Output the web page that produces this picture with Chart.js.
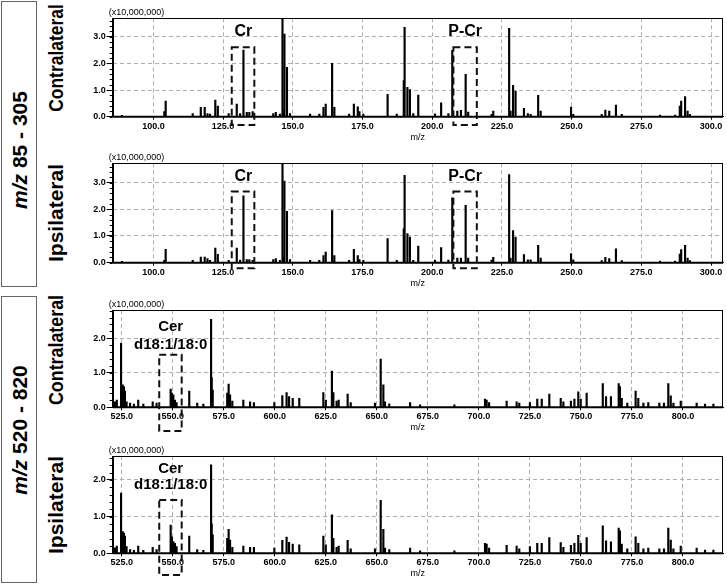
<!DOCTYPE html>
<html><head><meta charset="utf-8">
<script src="https://cdn.jsdelivr.net/npm/chart.js@4.4.1/dist/chart.umd.min.js"></script>
<style>
html,body{margin:0;padding:0;background:#fff;}
#wrap{position:relative;width:727px;height:585px;overflow:hidden;background:#fff;}
canvas{position:absolute;left:70px;}
.box{position:absolute;border:1px solid #666;box-sizing:border-box;}
.vt{position:absolute;white-space:nowrap;font-family:"Liberation Sans",Arial,sans-serif;font-weight:bold;font-size:21px;line-height:1;color:#000;transform-origin:50% 50%;}
</style></head><body>
<div id="wrap">
  <div class="box" style="left:1px;top:1px;width:36px;height:286px"></div>
  <div class="box" style="left:1px;top:296px;width:36px;height:287px"></div>
  <div class="vt" style="left:18.5px;top:150px;transform:translate(-50%,-50%) rotate(-90deg)"><i>m/z</i> 85 - 305</div>
  <div class="vt" style="left:18.5px;top:430px;transform:translate(-50%,-50%) rotate(-90deg)"><i>m/z</i> 520 - 820</div>
  <div class="vt" style="left:55px;top:58px;transform:translate(-50%,-50%) rotate(-90deg) scaleX(0.83)">Contralateral</div>
  <div class="vt" style="left:55px;top:213px;transform:translate(-50%,-50%) rotate(-90deg)">Ipsilateral</div>
  <div class="vt" style="left:55px;top:350px;transform:translate(-50%,-50%) rotate(-90deg) scaleX(0.85)">Contralateral</div>
  <div class="vt" style="left:55px;top:505px;transform:translate(-50%,-50%) rotate(-90deg)">Ipsilateral</div>
  <canvas id="p1" width="657" height="145" style="top:0px"></canvas>
  <canvas id="p2" width="657" height="145" style="top:145px"></canvas>
  <canvas id="p3" width="657" height="145" style="top:290px"></canvas>
  <canvas id="p4" width="657" height="148" style="top:437px"></canvas>
</div>
<script>
// ---------- data (intensity in units of 10,000,000) ----------
const mzLow = [88.7,103.9,104.4,114.1,117.0,118.4,119.4,120.3,122.2,123.1,
  127.0,129.9,131.1,132.3,133.5,134.4,135.6,143.0,143.9,145.4,
  146.3,146.6,147.0,147.9,149.0,156.2,159.5,161.0,161.8,164.1,
  164.9,170.2,171.9,173.3,173.9,175.3,184.0,187.3,189.8,190.1,
  191.1,192.0,193.2,195.0,201.0,203.2,205.8,207.2,209.0,210.3,
  212.0,212.9,221.3,221.9,227.6,228.1,229.0,229.9,232.9,234.3,
  235.3,238.0,238.9,249.8,250.6,260.8,262.1,263.5,265.9,268.0,
  281.7,287.1,288.8,289.3,290.7,291.6,292.4];
const contraLow = [0.05,0.19,0.59,0.12,0.35,0.35,0.12,0.10,0.62,0.40,
  0.12,0.47,0.12,2.50,0.16,0.16,0.19,0.12,0.16,0.10,
  3.90,0.25,3.10,1.85,0.12,0.10,0.10,0.35,0.47,2.00,
  0.35,0.10,0.47,0.37,0.19,0.10,0.84,0.10,1.35,3.35,
  1.10,1.02,0.12,0.81,0.11,0.52,0.12,2.49,0.21,0.24,
  1.59,0.17,0.09,0.21,3.31,0.21,1.18,0.96,0.31,0.12,
  0.09,0.80,0.21,0.36,0.09,0.09,0.25,0.21,0.44,0.09,
  0.06,0.06,0.40,0.59,0.75,0.21,0.09];
const ipsiLow = [0.05,0.09,0.50,0.09,0.21,0.21,0.15,0.09,0.55,0.31,
  0.09,0.55,0.10,2.50,0.12,0.12,0.09,0.12,0.15,0.09,
  3.90,0.21,3.05,1.92,0.12,0.09,0.09,0.27,0.40,1.95,
  0.27,0.09,0.50,0.27,0.12,0.09,0.90,0.09,1.27,3.27,
  1.09,0.96,0.09,0.62,0.10,0.57,0.10,2.43,0.17,0.17,
  2.15,0.17,0.10,0.20,3.30,0.17,1.20,0.96,0.30,0.11,
  0.11,0.65,0.17,0.34,0.11,0.08,0.20,0.15,0.52,0.08,
  0.06,0.06,0.32,0.49,0.65,0.17,0.08];

const mzHigh = [521.7,522.6,524.7,525.5,526.1,526.6,527.4,529.1,531.0,533.1,
  535.6,540.2,542.1,549.0,549.6,550.3,551.1,551.9,558.1,562.0,
  565.0,568.8,569.1,569.6,576.7,577.4,578.1,579.2,584.6,587.9,
  589.8,599.8,603.7,605.8,607.0,608.8,612.0,623.8,625.0,628.0,
  628.7,630.3,631.3,635.7,637.2,649.1,651.9,653.2,654.0,656.1,
  666.3,671.2,688.0,703.0,703.8,705.0,713.6,718.5,719.8,725.0,
  728.6,730.8,734.5,740.1,741.4,745.1,746.8,748.7,749.9,752.8,
  760.7,762.3,764.7,768.5,769.1,770.0,772.7,776.8,778.1,780.6,
  783.0,788.4,790.7,792.8,794.0,795.3,798.9,806.7,810.8,814.9];
const contraHigh = [0.16,0.21,1.86,0.65,0.60,0.47,0.16,0.12,0.09,0.21,
  0.09,0.16,0.12,0.53,0.41,0.36,0.21,0.14,0.47,0.12,
  0.09,2.55,0.86,0.50,0.41,0.67,0.36,0.18,0.21,0.16,
  0.14,0.14,0.34,0.43,0.31,0.26,0.26,0.43,0.21,1.05,
  0.43,0.18,0.21,0.38,0.14,0.12,1.40,0.65,0.16,0.10,
  0.14,0.07,0.07,0.24,0.21,0.14,0.18,0.16,0.12,0.14,
  0.24,0.24,0.38,0.26,0.16,0.18,0.24,0.45,0.24,0.41,
  0.69,0.31,0.31,0.69,0.60,0.26,0.12,0.47,0.26,0.12,
  0.14,0.12,0.12,0.69,0.33,0.12,0.18,0.12,0.09,0.09];
const ipsiHigh = [0.15,0.20,1.64,0.59,0.55,0.47,0.18,0.10,0.08,0.20,
  0.08,0.16,0.10,0.77,0.45,0.32,0.27,0.18,0.47,0.10,
  0.08,2.41,0.80,0.50,0.41,0.65,0.36,0.16,0.20,0.16,
  0.16,0.14,0.35,0.44,0.30,0.25,0.23,0.47,0.23,1.05,
  0.41,0.16,0.20,0.35,0.12,0.12,1.44,0.65,0.14,0.10,
  0.14,0.07,0.07,0.27,0.25,0.14,0.22,0.20,0.12,0.18,
  0.27,0.27,0.43,0.29,0.16,0.22,0.27,0.49,0.27,0.43,
  0.75,0.34,0.31,0.69,0.61,0.25,0.12,0.45,0.27,0.12,
  0.14,0.12,0.12,0.69,0.36,0.12,0.20,0.14,0.09,0.09];

// tick labels
const mzTicksLow = [100,125,150,175,200,225,250,275,300];
const mzTicksHigh = [525,550,575,600,625,650,675,700,725,750,775,800];
const yTicksTop = [0,1,2,3];
const yTicksBottom = [0,1,2];

// annotated regions: [mzFrom, mzTo, intensityTop, intensityBottom]
const crBoxContra = [128.1,136.2,2.60,-0.31];
const pcrBoxContra = [207.6,216.0,2.60,-0.31];
const crBoxIpsi = [128.1,136.2,2.66,-0.21];
const pcrBoxIpsi = [207.6,216.0,2.66,-0.21];
const cerBoxContra = [543.4,554.4,1.52,-0.69];
const cerBoxIpsi = [543.4,554.4,1.45,-0.59];
</script>
<script>
const FAM = '"Liberation Sans", Arial, sans-serif';
const decor = {
  id: 'decor',
  afterDraw(chart, args, o) {
    const {ctx, chartArea: a, scales: {x, y}} = chart;
    ctx.save();
    // frame
    ctx.strokeStyle = '#000'; ctx.lineWidth = 1;
    ctx.strokeRect(Math.round(a.left) + 0.5, Math.round(a.top) + 0.5, Math.round(a.right - a.left) - 1, Math.round(a.bottom - a.top));
    ctx.lineWidth = 2;
    ctx.beginPath(); ctx.moveTo(a.left, a.bottom); ctx.lineTo(a.right, a.bottom); ctx.stroke();
    // minor ticks on y
    ctx.lineWidth = 1;
    const n = Math.floor(y.max / 0.2 + 1e-6);
    for (let i = 0; i <= n; i++) {
      const py = Math.round(y.getPixelForValue(i * 0.2)) + 0.5;
      ctx.beginPath(); ctx.moveTo(a.left - 3, py); ctx.lineTo(a.left, py); ctx.stroke();
    }
    // multiplier
    ctx.fillStyle = '#000';
    ctx.font = '9px ' + FAM;
    ctx.textAlign = 'left'; ctx.textBaseline = 'bottom';
    ctx.fillText('(x10,000,000)', a.left - 4, a.top - 1);
    // dashed boxes
    ctx.setLineDash([7, 4]); ctx.lineWidth = 2; ctx.strokeStyle = '#111';
    (o.boxes || []).forEach(b => {
      const x1 = x.getPixelForValue(b[0]), x2 = x.getPixelForValue(b[1]);
      const y1 = y.getPixelForValue(b[2]), y2 = y.getPixelForValue(b[3]);
      ctx.strokeRect(x1, y1, x2 - x1, y2 - y1);
    });
    ctx.setLineDash([]);
    (o.labels || []).forEach(l => {
      ctx.font = 'bold ' + l.size + 'px ' + FAM;
      ctx.textAlign = 'center'; ctx.textBaseline = 'middle';
      ctx.fillText(l.text, x.getPixelForValue(l.x), y.getPixelForValue(l.y));
    });
    ctx.restore();
  }
};

function panel(id, c) {
  const padTop = c.areaTop - c.top;
  const xH = c.top + c.height - c.areaBottom;
  const titlePad = c.height - (c.areaBottom - c.top + 20.5) - 5.4;
  return new Chart(document.getElementById(id), {
    type: 'bar',
    data: { datasets: [{ data: c.mz.map((m, i) => ({x: m, y: c.vals[i]})), backgroundColor: '#000', borderWidth: 0, barThickness: 1.5 }] },
    options: {
      responsive: false, animation: false, maintainAspectRatio: false,
      layout: { padding: { top: padTop, left: 0, right: 4, bottom: 0 } },
      plugins: { legend: { display: false }, tooltip: { enabled: false }, decor: { boxes: c.boxes, labels: c.labels } },
      scales: {
        x: {
          type: 'linear', min: c.xMin, max: c.xMax, offset: false,
          afterFit: s => { s.height = xH; },
          afterBuildTicks: s => { s.ticks = c.xTicks.map(v => ({value: v})); },
          grid: { color: '#b0b0b0', lineWidth: 1, tickLength: 3, tickColor: '#000', offset: false },
          border: { display: true, color: '#000', width: 1, dash: [4, 3] },
          ticks: { font: { family: FAM, size: 9, weight: 'bold' }, color: '#000', padding: 1, maxRotation: 0, autoSkip: false, callback: v => v.toFixed(1) },
          title: { display: true, text: 'm/z', font: { family: FAM, size: 9 }, color: '#000', padding: { top: 0, bottom: titlePad } }
        },
        y: {
          min: 0, max: c.yMax,
          afterFit: s => { s.width = 42.7; },
          afterBuildTicks: s => { s.ticks = c.yTicks.map(v => ({value: v})); },
          grid: { color: '#b0b0b0', lineWidth: 1, tickLength: 6, tickColor: '#000' },
          border: { display: true, color: '#000', width: 1, dash: [4, 3] },
          ticks: { font: { family: FAM, size: 9, weight: 'bold' }, color: '#000', padding: 1, callback: v => v.toFixed(1) }
        }
      }
    },
    plugins: [decor]
  });
}

panel('p1', { top: 0, height: 145, areaTop: 18.3, areaBottom: 116.7, xMin: 85.4, xMax: 304.3, yMax: 3.69,
  mz: mzLow, vals: contraLow, xTicks: mzTicksLow, yTicks: yTicksTop,
  boxes: [crBoxContra, pcrBoxContra],
  labels: [{text: 'Cr', x: 132.3, y: 3.18, size: 16}, {text: 'P-Cr', x: 211.8, y: 3.18, size: 16}] });
panel('p2', { top: 145, height: 145, areaTop: 163.3, areaBottom: 262.7, xMin: 85.4, xMax: 304.3, yMax: 3.72,
  mz: mzLow, vals: ipsiLow, xTicks: mzTicksLow, yTicks: yTicksTop,
  boxes: [crBoxIpsi, pcrBoxIpsi],
  labels: [{text: 'Cr', x: 132.3, y: 3.22, size: 16}, {text: 'P-Cr', x: 211.8, y: 3.22, size: 16}] });
panel('p3', { top: 290, height: 145, areaTop: 310, areaBottom: 407.3, xMin: 520.6, xMax: 819.6, yMax: 2.82,
  mz: mzHigh, vals: contraHigh, xTicks: mzTicksHigh, yTicks: yTicksBottom,
  boxes: [cerBoxContra],
  labels: [{text: 'Cer', x: 549.0, y: 2.34, size: 15}, {text: 'd18:1/18:0', x: 549.0, y: 1.81, size: 15}] });
panel('p4', { top: 437, height: 148, areaTop: 456, areaBottom: 553.3, xMin: 520.6, xMax: 819.6, yMax: 2.65,
  mz: mzHigh, vals: ipsiHigh, xTicks: mzTicksHigh, yTicks: yTicksBottom,
  boxes: [cerBoxIpsi],
  labels: [{text: 'Cer', x: 549.0, y: 2.29, size: 15}, {text: 'd18:1/18:0', x: 549.0, y: 1.86, size: 15}] });
</script>
</body></html>
